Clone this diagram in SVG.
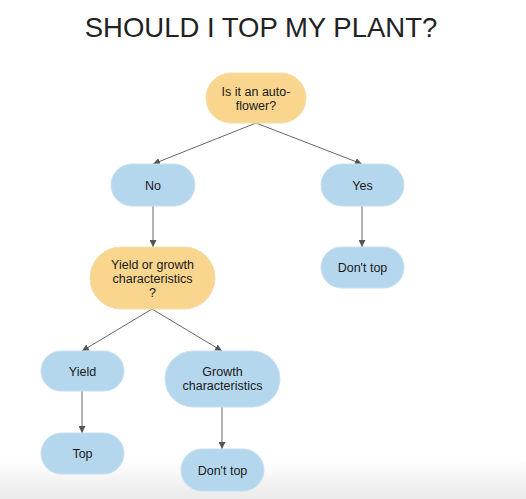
<svg xmlns="http://www.w3.org/2000/svg" width="526" height="499" viewBox="0 0 526 499">
<defs>
<linearGradient id="bg" x1="0" y1="0" x2="0" y2="1">
<stop offset="0" stop-color="#ffffff"/>
<stop offset="0.92" stop-color="#ffffff"/>
<stop offset="1" stop-color="#eaeaea"/>
</linearGradient>
<marker id="arr" viewBox="0 0 8 8" refX="8" refY="4" markerWidth="7" markerHeight="7" markerUnits="userSpaceOnUse" orient="auto">
<path d="M0,0 L8,4 L0,8 Z" fill="#555"/>
</marker>
</defs>
<style>
.q{fill:#f9d58e;stroke:#f2dcae;stroke-width:1}
.a{fill:#b4d7ee;stroke:#c8e0f0;stroke-width:1}
.t{font-family:"Liberation Sans",Arial,sans-serif;font-size:12.5px;fill:#1a1a1a;text-anchor:middle}
.e{stroke:#666;stroke-width:1;fill:none;marker-end:url(#arr)}
</style>
<rect x="0" y="0" width="526" height="499" fill="url(#bg)"/>
<text x="261" y="37" font-family="Liberation Sans,Arial,sans-serif" font-size="27.5" fill="#222" text-anchor="middle">SHOULD I TOP MY PLANT?</text>
<g id="edges">
<line class="e" x1="256" y1="123" x2="153" y2="164"/>
<line class="e" x1="256" y1="123" x2="362" y2="164"/>
<line class="e" x1="153" y1="206" x2="153" y2="247"/>
<line class="e" x1="362" y1="206" x2="362" y2="247"/>
<line class="e" x1="152" y1="309" x2="82" y2="351"/>
<line class="e" x1="152" y1="309" x2="222" y2="351"/>
<line class="e" x1="82" y1="391" x2="82" y2="433"/>
<line class="e" x1="222" y1="407" x2="222" y2="449"/>
</g>
<g id="n-auto">
<rect class="q" x="206" y="73" width="100" height="50" rx="25"/>
<text class="t" x="256" y="96">Is it an auto-</text>
<text class="t" x="256" y="110">flower?</text>
</g>
<g id="n-no">
<rect class="a" x="111" y="164" width="84" height="42" rx="21"/>
<text class="t" x="153" y="189.5">No</text>
</g>
<g id="n-yes">
<rect class="a" x="321" y="164" width="83" height="42" rx="21"/>
<text class="t" x="362.5" y="189.5">Yes</text>
</g>
<g id="n-donttop1">
<rect class="a" x="321" y="247" width="83" height="41" rx="20.5"/>
<text class="t" x="362.5" y="272">Don't top</text>
</g>
<g id="n-yieldgrowth">
<rect class="q" x="90" y="247" width="125" height="62" rx="31"/>
<text class="t" x="152.5" y="269">Yield or growth</text>
<text class="t" x="152.5" y="283">characteristics</text>
<text class="t" x="152.5" y="297">?</text>
</g>
<g id="n-yield">
<rect class="a" x="41" y="351" width="83" height="40" rx="20"/>
<text class="t" x="82.5" y="375.5">Yield</text>
</g>
<g id="n-growth">
<rect class="a" x="165" y="351" width="115" height="56" rx="28"/>
<text class="t" x="222.5" y="376">Growth</text>
<text class="t" x="222.5" y="390">characteristics</text>
</g>
<g id="n-top">
<rect class="a" x="41" y="433" width="83" height="41" rx="20.5"/>
<text class="t" x="82.5" y="458">Top</text>
</g>
<g id="n-donttop2">
<rect class="a" x="181" y="449" width="83" height="42" rx="21"/>
<text class="t" x="222.5" y="474.5">Don't top</text>
</g>
</svg>
